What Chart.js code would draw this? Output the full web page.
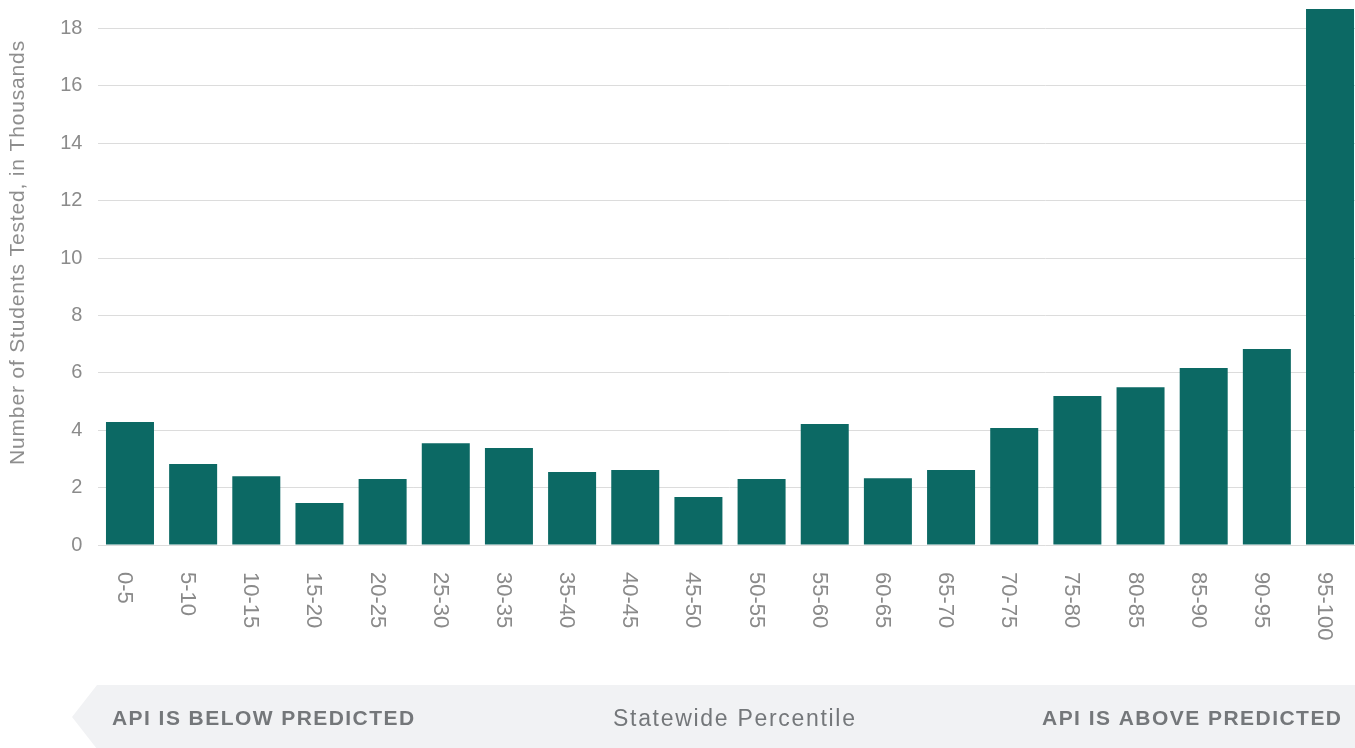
<!DOCTYPE html>
<html>
<head>
<meta charset="utf-8">
<script src="https://cdn.jsdelivr.net/npm/chart.js@4/dist/chart.umd.min.js"></script>
<style>
  html, body { margin: 0; padding: 0; background: #ffffff; overflow: hidden; }
  #wrap { width: 1370px; height: 748px; }
</style>
</head>
<body>
<div id="wrap"><canvas id="chart" width="1370" height="748"></canvas></div>
<script>
// Statewide percentile bands
const categories = ['0-5', '5-10', '10-15', '15-20', '20-25', '25-30', '30-35', '35-40', '40-45', '45-50',
  '50-55', '55-60', '60-65', '65-70', '70-75', '75-80', '80-85', '85-90', '90-95', '95-100'];

// Students tested per band, in thousands
const studentsTested = [4.29, 2.82, 2.40, 1.46, 2.30, 3.55, 3.38, 2.54, 2.61, 1.67,
  2.30, 4.22, 2.33, 2.61, 4.08, 5.19, 5.50, 6.17, 6.83, 18.7];

const yTicks = [0, 2, 4, 6, 8, 10, 12, 14, 16, 18];

const yTitle = 'Number of Students Tested, in Thousands';
const xTitle = 'Statewide Percentile';
const leftNote = 'API IS BELOW PREDICTED';
const rightNote = 'API IS ABOVE PREDICTED';

const FONT = '"Liberation Sans", Arial, Helvetica, sans-serif';
const BAR = '#0c6964';

// draw text spread evenly over a given span
function trackedText(ctx, text, x, y, span) {
  ctx.letterSpacing = '0px';
  const w0 = ctx.measureText(text).width;
  const sp = (span - w0) / Math.max(text.length - 1, 1);
  ctx.letterSpacing = sp.toFixed(2) + 'px';
  ctx.fillText(text, x, y);
  ctx.letterSpacing = '0px';
}

const decorations = {
  id: 'decorations',
  afterDraw(chart) {
    const ctx = chart.ctx;
    const xs = chart.scales.x;
    const W = chart.width;
    ctx.save();

    // rotated category labels
    ctx.fillStyle = '#8a8a8a';
    ctx.font = '22px ' + FONT;
    ctx.textAlign = 'left';
    ctx.textBaseline = 'alphabetic';
    categories.forEach((c, i) => {
      const px = xs.getPixelForValue(i);
      ctx.save();
      ctx.translate(px - 12, 572);
      ctx.rotate(Math.PI / 2);
      ctx.fillText(c, 0, 0);
      ctx.restore();
    });

    // vertical axis title
    ctx.save();
    ctx.font = '21px ' + FONT;
    ctx.fillStyle = '#8e8e8e';
    ctx.textAlign = 'left';
    ctx.translate(24, 465);
    ctx.rotate(-Math.PI / 2);
    trackedText(ctx, yTitle, 0, 0, 424);
    ctx.restore();

    // bottom band with arrow point
    ctx.fillStyle = '#f1f2f4';
    ctx.beginPath();
    ctx.moveTo(97, 685);
    ctx.lineTo(W, 685);
    ctx.lineTo(W, 749);
    ctx.lineTo(97, 749);
    ctx.lineTo(72, 717);
    ctx.closePath();
    ctx.fill();

    ctx.fillStyle = '#74777a';
    ctx.textAlign = 'left';
    ctx.font = 'bold 21px ' + FONT;
    trackedText(ctx, leftNote, 112, 725, 302);
    trackedText(ctx, rightNote, 1042, 725, 299);

    ctx.font = '23px ' + FONT;
    trackedText(ctx, xTitle, 613, 726, 242);

    ctx.restore();
  }
};

new Chart(document.getElementById('chart'), {
  type: 'bar',
  data: {
    labels: categories,
    datasets: [{
      data: studentsTested,
      backgroundColor: BAR,
      borderWidth: 0,
      barPercentage: 0.76,
      categoryPercentage: 1.0
    }]
  },
  options: {
    responsive: false,
    animation: false,
    devicePixelRatio: 1,
    layout: { padding: { left: 0, right: 8.4, top: 9, bottom: 203 } },
    plugins: {
      legend: { display: false },
      tooltip: { enabled: false }
    },
    scales: {
      x: {
        display: false
      },
      y: {
        min: 0,
        max: 18.68,
        border: { display: false },
        grid: { color: '#dcdcdc', lineWidth: 1, drawTicks: false },
        afterBuildTicks(scale) {
          scale.ticks = yTicks.map(v => ({ value: v }));
        },
        afterFit(scale) {
          scale.width = 98.4;
          scale.paddingTop = 0;
          scale.paddingBottom = 0;
        },
        ticks: {
          padding: 16,
          color: '#8b8b8b',
          font: { family: FONT, size: 20 }
        }
      }
    }
  },
  plugins: [decorations]
});
</script>
</body>
</html>
